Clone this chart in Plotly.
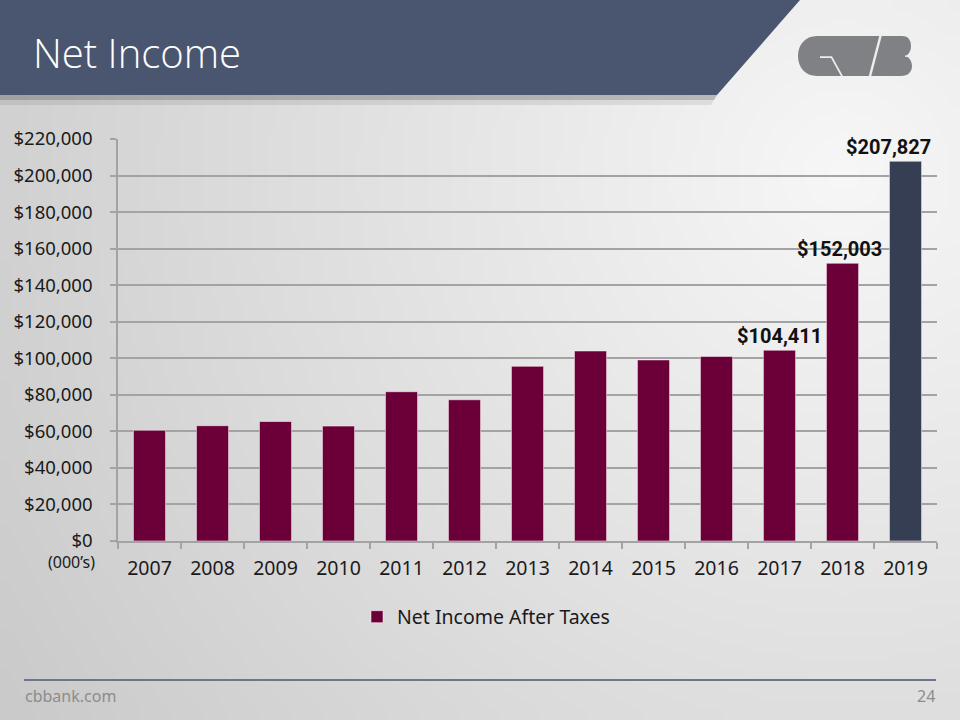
import base64, struct, zlib, math
import plotly.graph_objects as go

# ---------------- data ----------------
years = ["2007", "2008", "2009", "2010", "2011", "2012", "2013",
         "2014", "2015", "2016", "2017", "2018", "2019"]
net_income = [60600, 63100, 65400, 62900, 81700, 77300, 95600,
              104000, 99100, 101000, 104411, 152003, 207827]
labeled_years = ["2017", "2018", "2019"]
series_name = "Net Income After Taxes"
y_ticks = list(range(0, 220001, 20000))
y_tick_text = [f"${v:,}" for v in y_ticks]

# ---------------- geometry helpers ----------------
FW, FH = 960, 720
L, R, T, B = 118, 23, 139, 179
PW, PH = FW - L - R, FH - T - B
PLOT_BOTTOM = FH - B


def px(x):
    return (x - L) / PW


def py(y):
    return (PLOT_BOTTOM - y) / PH


def P(x, y):
    return f"{px(x):.5f},{py(y):.5f}"


def path(points, close=True):
    s = "M " + " L ".join(P(x, y) for x, y in points)
    return s + (" Z" if close else "")


# ---------------- background gradient image ----------------
def gradient_png(w, h):
    rows = []
    cx, cy = 840 * w / FW, 170 * h / FH
    scale = FW / w
    for j in range(h):
        row = bytearray([0])
        for i in range(w):
            d = math.hypot(i - cx, j - cy) * scale
            v = int(max(196, min(247, 247 - 45 * d / 1000)))
            row.append(v)
        rows.append(bytes(row))
    raw = b"".join(rows)

    def chunk(tag, data):
        c = struct.pack(">I", len(data)) + tag + data
        return c + struct.pack(">I", zlib.crc32(tag + data) & 0xffffffff)

    png = (b"\x89PNG\r\n\x1a\n"
           + chunk(b"IHDR", struct.pack(">IIBBBBB", w, h, 8, 0, 0, 0, 0))
           + chunk(b"IDAT", zlib.compress(raw, 9)) + chunk(b"IEND", b""))
    return "data:image/png;base64," + base64.b64encode(png).decode()


MAROON = "#6B0039"
NAVY = "#363E54"
idx = list(range(len(years)))
bar_colors = [NAVY if i == len(years) - 1 else MAROON for i in idx]

fig = go.Figure()
fig.add_trace(go.Bar(
    x=idx, y=net_income, name=series_name, width=0.51,
    marker=dict(color=bar_colors, line=dict(color="rgba(255,235,245,0.7)", width=0.8)),
    showlegend=True,
))

label_shift = {"2017": 0, "2018": -3, "2019": -17}
annotations = []
for i, (yr, v) in enumerate(zip(years, net_income)):
    if yr in labeled_years:
        annotations.append(dict(
            x=i, y=v, xref="x", yref="y", text=f"${v:,}", showarrow=False,
            yanchor="bottom", xanchor="center", yshift=0, xshift=label_shift[yr],
            font=dict(family="Roboto", size=20, color="#111111", weight="bold"),
        ))

annotations += [
    dict(x=px(31), y=py(53), xref="paper", yref="paper", text="Net Income",
         showarrow=False, xanchor="left", yanchor="middle",
         font=dict(family="Open Sans", size=40, color="white", weight=300)),
    dict(x=px(46), y=py(562), xref="paper", yref="paper", text="(000’s)",
         showarrow=False, xanchor="left", yanchor="middle",
         font=dict(family="Noto Sans", size=16, color="#1a1a1a")),
    dict(x=px(23), y=py(696), xref="paper", yref="paper", text="cbbank.com",
         showarrow=False, xanchor="left", yanchor="middle",
         font=dict(family="Noto Sans", size=16, color="#8c8c8c")),
    dict(x=px(937), y=py(696), xref="paper", yref="paper", text="24",
         showarrow=False, xanchor="right", yanchor="middle",
         font=dict(family="Noto Sans", size=16, color="#8c8c8c")),
]

HEADER = "#4A5670"
shapes = [
    dict(type="path", xref="paper", yref="paper", layer="above",
         path=path([(0, 95), (717, 95), (711, 105), (0, 105)]),
         fillcolor="rgba(0,0,0,0.08)", line=dict(width=0)),
    dict(type="path", xref="paper", yref="paper", layer="above",
         path=path([(0, 95), (717, 95), (714, 100), (0, 100)]),
         fillcolor="rgba(0,0,0,0.16)", line=dict(width=0)),
    dict(type="path", xref="paper", yref="paper", layer="above",
         path=path([(0, 0), (800, 0), (717, 95), (0, 95)]),
         fillcolor=HEADER, line=dict(width=0)),
    dict(type="line", xref="paper", yref="paper", layer="above",
         x0=px(24), x1=px(936), y0=py(680), y1=py(680),
         line=dict(color="#6E768A", width=2)),
]

LOGO = "#808184"
body = ("M " + P(817, 36) + " L " + P(902, 36) +
        " C " + P(909, 36) + " " + P(911, 41) + " " + P(911, 46) +
        " C " + P(911, 51) + " " + P(909, 54) + " " + P(906, 56) +
        " C " + P(910, 58) + " " + P(912, 62) + " " + P(912, 66) +
        " C " + P(912, 72) + " " + P(908, 76) + " " + P(901, 76) +
        " L " + P(817, 76) +
        " C " + P(805, 76) + " " + P(798, 67) + " " + P(798, 56) +
        " C " + P(798, 45) + " " + P(805, 36) + " " + P(817, 36) + " Z")
shapes.append(dict(type="path", xref="paper", yref="paper", layer="above",
                   path=body, fillcolor=LOGO, line=dict(width=0)))
GAP = "#EDEDED"
shapes += [
    dict(type="path", xref="paper", yref="paper", layer="above",
         path=path([(820, 56.3), (832, 56.3), (843.5, 77), (841.5, 77), (831, 58), (820, 58)]),
         fillcolor=GAP, line=dict(width=0)),
    dict(type="path", xref="paper", yref="paper", layer="above",
         path=path([(879.5, 35), (882, 35), (871, 77), (868.5, 77)]),
         fillcolor=GAP, line=dict(width=0)),
    dict(type="path", xref="paper", yref="paper", layer="above",
         path=path([(913, 55), (905, 55.5), (905, 56.8), (913, 57.5)]),
         fillcolor=GAP, line=dict(width=0)),
]

GRID = "#A3A3A3"
boundaries = [i - 0.5 for i in range(len(years) + 1)]
fig.update_layout(
    width=FW, height=FH,
    margin=dict(l=L, r=R, t=T, b=B, autoexpand=False),
    paper_bgcolor="#E4E4E4", plot_bgcolor="rgba(0,0,0,0)",
    font=dict(family="Noto Sans", color="#1a1a1a"),
    xaxis=dict(range=[-0.5, len(years) - 0.5], tickmode="array", tickvals=idx, ticktext=years,
               ticks="", tickangle=0, showgrid=False, zeroline=False,
               showline=True, linecolor=GRID, linewidth=1.5,
               minor=dict(tickmode="array", tickvals=boundaries, ticks="outside",
                          ticklen=6, tickcolor=GRID, tickwidth=1.5, showgrid=False),
               tickfont=dict(family="Noto Sans", size=19.5, color="#1a1a1a"),
               ticklabelstandoff=9, fixedrange=True),
    yaxis=dict(range=[0, 220000], tickmode="array", tickvals=y_ticks, ticktext=y_tick_text,
               ticks="outside", ticklen=6, tickcolor=GRID, tickwidth=1.5,
               showline=True, linecolor=GRID, linewidth=1.5,
               showgrid=True, gridcolor=GRID, gridwidth=1.5, zeroline=False,
               tickfont=dict(family="Noto Sans", size=18.5, color="#1a1a1a"),
               ticklabelstandoff=14, fixedrange=True),
    legend=dict(orientation="h", x=px(357), y=py(617), xanchor="left", yanchor="middle",
                bgcolor="rgba(0,0,0,0)", font=dict(family="Noto Sans", size=19.5, color="#1a1a1a")),
    annotations=annotations,
    shapes=shapes,
    images=[dict(source=gradient_png(120, 90), xref="paper", yref="paper",
                 x=px(0), y=py(0), sizex=FW / PW, sizey=FH / PH,
                 xanchor="left", yanchor="top", sizing="stretch", layer="below")],
)

fig.write_html("out.html", config={"displayModeBar": False})
